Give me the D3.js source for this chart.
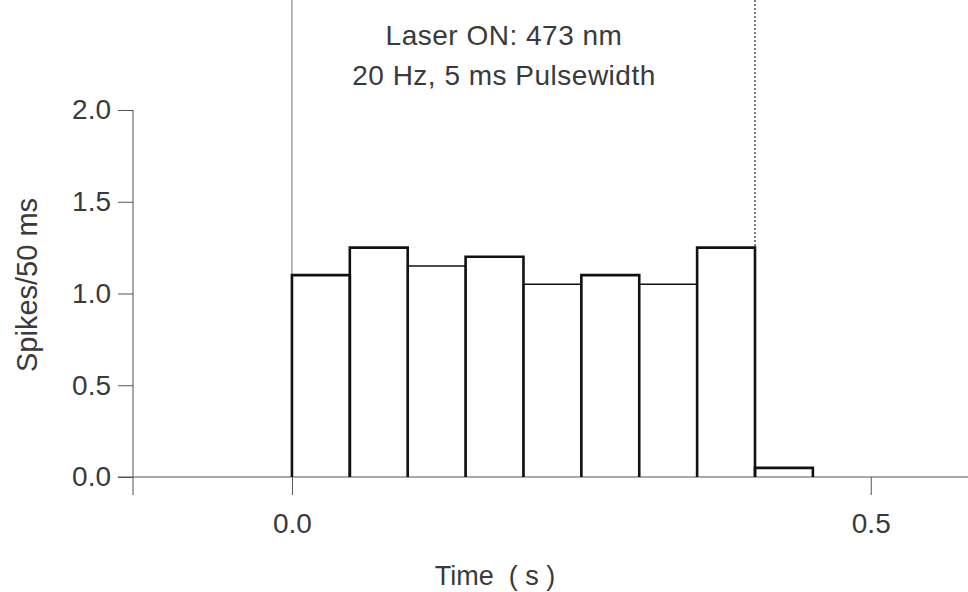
<!DOCTYPE html>
<html>
<head>
<meta charset="utf-8">
<script src="https://cdn.jsdelivr.net/npm/d3@7"></script>
<style>
  body { margin: 0; background: #fff; }
  text { font-family: "Liberation Sans", Arial, sans-serif; fill: #3a3a3a; }
</style>
</head>
<body>
<div id="chart"></div>
<script>
// histogram data: spikes per 50 ms bin after laser onset
var binStarts = [0.00, 0.05, 0.10, 0.15, 0.20, 0.25, 0.30, 0.35, 0.40]
var spikes = [1.10, 1.25, 1.15, 1.20, 1.05, 1.10, 1.05, 1.25, 0.05]
var binWidth = 0.05

// axis ticks and domains
var xTicks = [0.0, 0.5]
var yTicks = [0.0, 0.5, 1.0, 1.5, 2.0]
var xDomain = [-0.1373, 0.584]
var yDomain = [0, 2]

// laser on / off markers
var laserMarks = [0.0, 0.4]
var titleLines = ["Laser ON: 473 nm", "20 Hz, 5 ms Pulsewidth"]

var width = 968, height = 592

var svg = d3.select("#chart").append("svg")
    .attr("width", width)
    .attr("height", height)

var x = d3.scaleLinear().domain(xDomain).range([133, 968])
var y = d3.scaleLinear().domain(yDomain).range([477, 110])

var fmt = d3.format(".1f")

// laser markers (drawn first, bars go over them)
svg.selectAll(".laser")
    .data(laserMarks)
  .enter().append("line")
    .attr("class", "laser")
    .attr("x1", function(d) { return x(d) })
    .attr("x2", function(d) { return x(d) })
    .attr("y1", 0)
    .attr("y2", y(0))
    .attr("stroke", function(d, i) { return i == 0 ? "#777" : "#555" })
    .attr("stroke-width", function(d, i) { return i == 0 ? 1 : 1.5 })
    .attr("stroke-dasharray", function(d, i) { return i == 0 ? null : "2,2" })

// x axis
var xAxis = d3.axisBottom(x).tickValues(xTicks).tickFormat(fmt)
    .tickSize(18).tickPadding(18).tickSizeOuter(0)
var gx = svg.append("g")
    .attr("transform", "translate(0," + y(0) + ")")
    .call(xAxis)
gx.select(".domain").remove()
gx.selectAll(".tick line").attr("stroke", "#555")
gx.selectAll(".tick text").style("font-size", "28px").attr("fill", "#3a3a3a")

// y axis
var yAxis = d3.axisLeft(y).tickValues(yTicks).tickFormat(fmt)
    .tickSize(15).tickPadding(7).tickSizeOuter(0)
var gy = svg.append("g")
    .attr("transform", "translate(" + x(xDomain[0]) + ",0)")
    .call(yAxis)
gy.select(".domain").remove()
gy.selectAll(".tick line").attr("stroke", "#555")
gy.selectAll(".tick text").style("font-size", "28px").attr("fill", "#3a3a3a")

// axis lines, crossing each other like the original
svg.append("line")
    .attr("x1", x(xDomain[0]) - 15).attr("x2", x(xDomain[1]))
    .attr("y1", y(0)).attr("y2", y(0))
    .attr("stroke", "#555").attr("stroke-width", 1)
svg.append("line")
    .attr("x1", x(xDomain[0])).attr("x2", x(xDomain[0]))
    .attr("y1", y(yDomain[1])).attr("y2", y(0) + 18)
    .attr("stroke", "#555").attr("stroke-width", 1)

// bars as open outlines (no bottom edge), the lower in-between bars thinner and underneath
var bars = binStarts.map(function(d, i) { return {t: d, v: spikes[i], i: i} })
function isThin(d) { return d.i % 2 == 0 && d.i > 0 && d.i < 8 }
bars.sort(function(a, b) { return (isThin(a) ? 0 : 1) - (isThin(b) ? 0 : 1) })

svg.selectAll(".bar")
    .data(bars)
  .enter().append("path")
    .attr("class", "bar")
    .attr("d", function(d) {
      var x0 = x(d.t), x1 = x(d.t + binWidth), y0 = y(0), y1 = y(d.v)
      return "M" + x0 + "," + y0 + "V" + y1 + "H" + x1 + "V" + y0
    })
    .attr("fill", "none")
    .attr("stroke", "#111")
    .attr("stroke-width", function(d) { return isThin(d) ? 1.5 : 2.6 })

// title lines
svg.selectAll(".title")
    .data(titleLines)
  .enter().append("text")
    .attr("class", "title")
    .attr("x", 504)
    .attr("y", function(d, i) { return 45 + i * 40 })
    .attr("text-anchor", "middle")
    .style("font-size", "28px")
    .style("letter-spacing", "0.5px")
    .text(function(d) { return d })

// axis labels
svg.append("text")
    .attr("x", 495)
    .attr("y", 585)
    .attr("text-anchor", "middle")
    .style("font-size", "27px")
    .style("white-space", "pre")
    .text("Time  ( s )")

svg.append("text")
    .attr("transform", "translate(37,285) rotate(-90)")
    .attr("text-anchor", "middle")
    .style("font-size", "29px")
    .text("Spikes/50 ms")
</script>
</body>
</html>
